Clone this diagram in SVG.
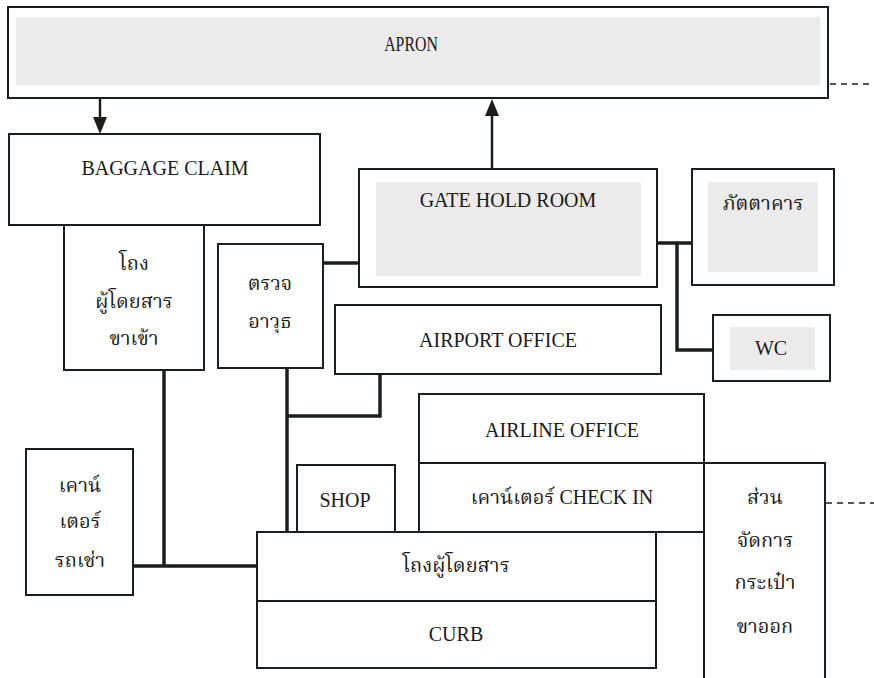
<svg xmlns="http://www.w3.org/2000/svg" width="874" height="678" viewBox="0 0 874 678">
<defs>
<style>
.box{fill:#fff;stroke:#1a1f1c;stroke-width:2}
.shade{fill:#ebebeb;stroke:none}
.t{font-family:"Liberation Serif","Noto Serif Thai","Noto Sans Thai Looped","Noto Sans Thai","Tlwg Typo","DejaVu Serif",serif;font-size:20px;fill:#1a1a1a;text-anchor:middle}
.c{fill:none;stroke:#1a1f1c;stroke-width:3.5}
.a{fill:none;stroke:#1a1f1c;stroke-width:2.5}
.ah{fill:#1a1f1c;stroke:none}
.d{fill:none;stroke:#1a1f1c;stroke-width:1.5;stroke-dasharray:6 5}
</style>
</defs>
<rect width="874" height="678" fill="#fff"/>

<g id="apron">
<rect class="box" x="8" y="7" width="820" height="91"/>
<rect class="shade" x="16" y="17" width="804" height="68"/>
<text class="t" transform="translate(411,51) scale(0.72,1)" x="0" y="0" style="font-size:22px">APRON</text>
</g>

<g id="baggage-claim">
<rect class="box" x="9" y="134" width="311" height="91"/>
<text class="t" x="165" y="175">BAGGAGE CLAIM</text>
</g>

<g id="arrival-hall">
<rect class="box" x="64" y="225" width="140" height="145"/>
<text class="t" x="134" y="270">โถง</text>
<text class="t" x="134" y="308">ผู้โดยสาร</text>
<text class="t" x="134" y="345">ขาเข้า</text>
</g>

<g id="security">
<rect class="box" x="218" y="244" width="105" height="124"/>
<text class="t" x="270" y="290">ตรวจ</text>
<text class="t" x="270" y="328">อาวุธ</text>
</g>

<g id="gate-hold-room">
<rect class="box" x="359" y="169" width="298" height="118"/>
<rect class="shade" x="376" y="182" width="265" height="94"/>
<text class="t" x="508" y="207">GATE HOLD ROOM</text>
</g>

<g id="restaurant">
<rect class="box" x="692" y="169" width="142" height="116"/>
<rect class="shade" x="708" y="182" width="110" height="90"/>
<text class="t" x="763" y="210">ภัตตาคาร</text>
</g>

<g id="wc">
<rect class="box" x="713" y="315" width="117" height="66"/>
<rect class="shade" x="730" y="327" width="85" height="43"/>
<text class="t" x="771" y="355">WC</text>
</g>

<g id="airport-office">
<rect class="box" x="335" y="305" width="326" height="69"/>
<text class="t" x="498" y="347">AIRPORT OFFICE</text>
</g>

<g id="airline-office">
<rect class="box" x="419" y="394" width="285" height="69"/>
<text class="t" x="562" y="437">AIRLINE OFFICE</text>
</g>

<g id="check-in">
<rect class="box" x="419" y="463" width="285" height="69"/>
<text class="t" x="562" y="504">เคาน์เตอร์ CHECK IN</text>
</g>

<g id="baggage-handling">
<path class="box" d="M704,680 V463 H825 V680"/>
<text class="t" x="765" y="504">ส่วน</text>
<text class="t" x="765" y="547">จัดการ</text>
<text class="t" x="765" y="589">กระเป๋า</text>
<text class="t" x="765" y="633">ขาออก</text>
</g>

<g id="shop">
<rect class="box" x="297" y="465" width="98" height="67"/>
<text class="t" x="345" y="507">SHOP</text>
</g>

<g id="car-rental">
<rect class="box" x="26" y="449" width="107" height="146"/>
<text class="t" x="80" y="492">เคาน์</text>
<text class="t" x="80" y="528">เตอร์</text>
<text class="t" x="80" y="567">รถเช่า</text>
</g>

<g id="departure-hall">
<rect class="box" x="257" y="532" width="399" height="69"/>
<text class="t" x="456" y="572">โถงผู้โดยสาร</text>
</g>

<g id="curb">
<rect class="box" x="257" y="601" width="399" height="67"/>
<text class="t" x="456" y="641">CURB</text>
</g>

<g id="connectors">
<path class="a" d="M100,98 V120"/>
<polygon class="ah" points="93,117 107,117 100,134"/>
<path class="a" d="M492,168 V112"/>
<polygon class="ah" points="485,116 499,116 492,99"/>
<path class="c" d="M323,263 H359"/>
<path class="c" d="M657,243 H692"/>
<path class="c" d="M677,243 V350 H713"/>
<path class="c" d="M380,374 V416 H287"/>
<path class="c" d="M287,368 V532"/>
<path class="c" d="M164,370 V566"/>
<path class="c" d="M133,566 H257"/>
<path class="d" d="M830,84 H874"/>
<path class="d" d="M826,503 H874"/>
</g>
</svg>
